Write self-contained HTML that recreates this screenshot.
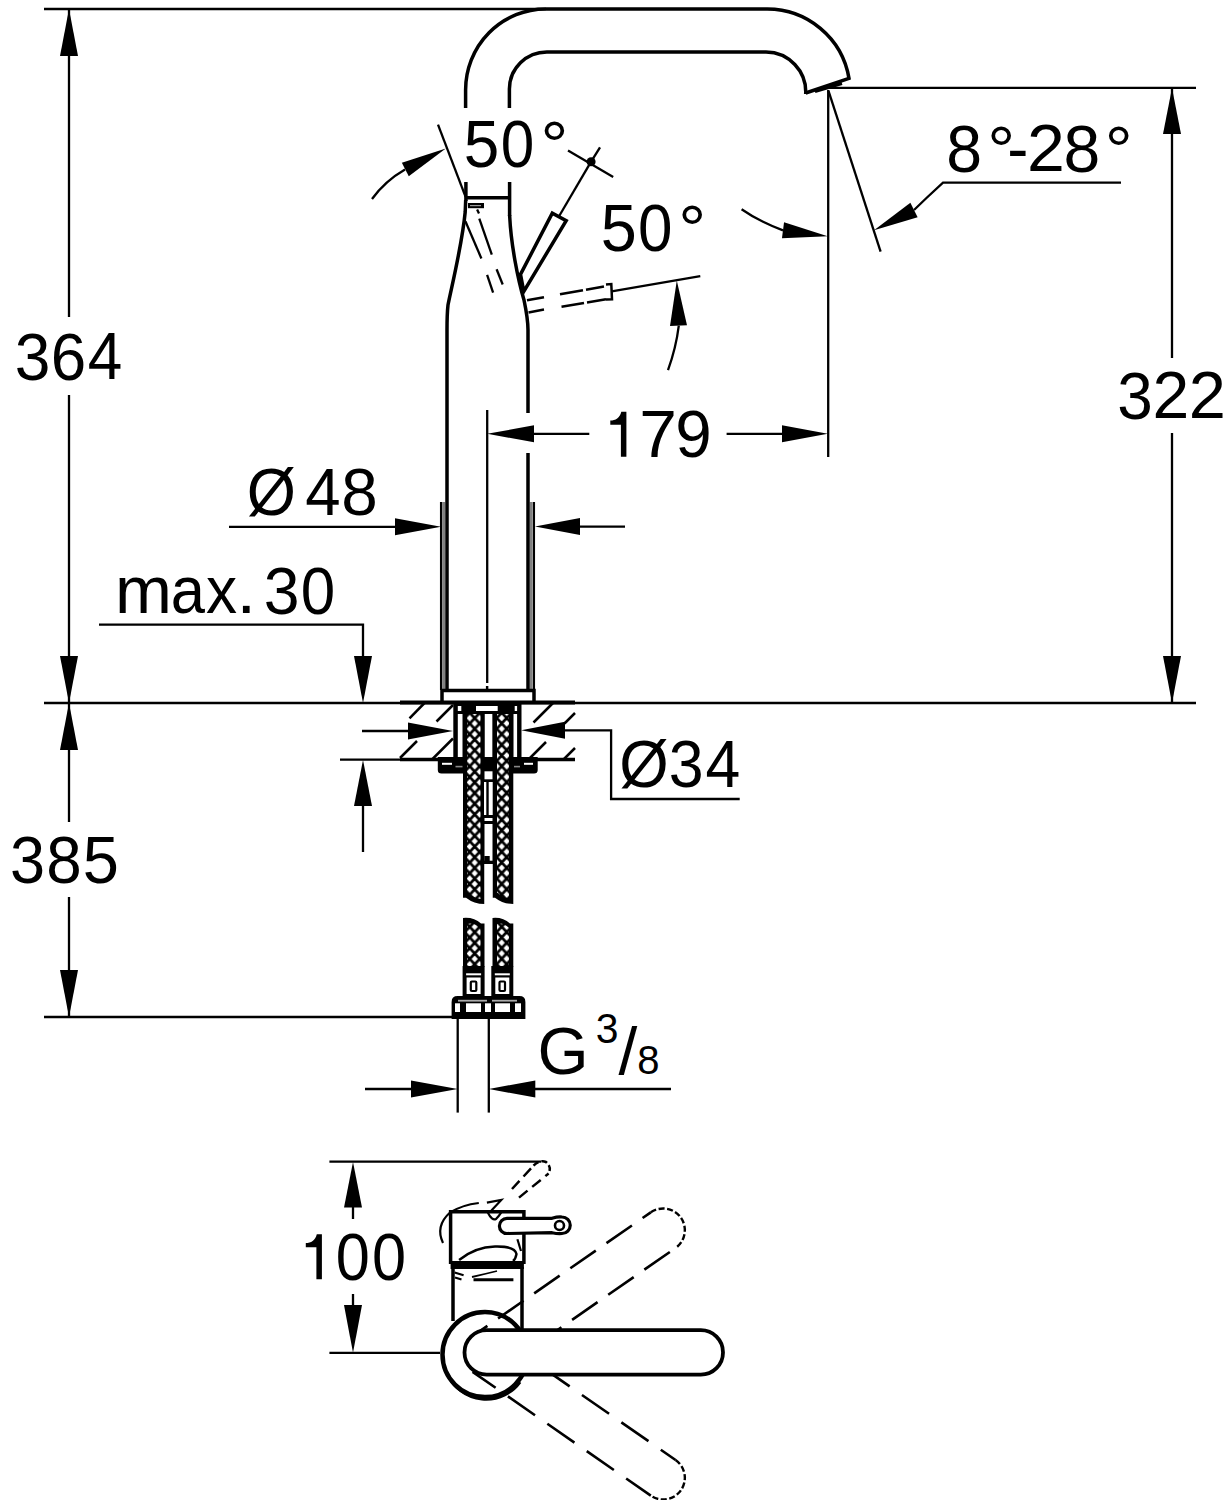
<!DOCTYPE html>
<html><head><meta charset="utf-8"><style>
html,body{margin:0;padding:0;background:#fff;}
svg{display:block;}
text{font-family:"Liberation Sans",sans-serif;fill:#000;}
text{stroke:none;}
.f{fill:#000;stroke:none;}
</style></head><body>
<svg width="1226" height="1500" viewBox="0 0 1226 1500"><g fill="none" stroke="#000">
<text transform="matrix(0.9715,0,0,1,14.86,379.5)" font-size="66">3</text>
<text transform="matrix(0.9654,0,0,1,50.76,379.5)" font-size="66">6</text>
<text transform="matrix(0.9411,0,0,1,87.87,379.3)" font-size="66">4</text>
<text transform="matrix(0.9555,0,0,1,9.9,883.2)" font-size="66">3</text>
<text transform="matrix(0.9655,0,0,1,46.23,883.2)" font-size="66">8</text>
<text transform="matrix(0.9843,0,0,1,82.7,883.2)" font-size="66">5</text>
<text transform="matrix(0.9683,0,0,1,1117.27,418.6)" font-size="66">3</text>
<text transform="matrix(1.0011,0,0,1,1152.58,418.4)" font-size="66">2</text>
<text transform="matrix(1.0111,0,0,1,1188.74,418.4)" font-size="66">2</text>
<path transform="translate(0,0)" d="M623.3,411.7 L626.4,411.7 L626.4,456.8 L620.9,456.8 L620.9,424.8 L610.3,424.8 L610.3,420.6 C615.5,420.3 619.8,418.2 621.3,411.7 Z" class="f"/>
<text transform="matrix(1.0266,0,0,1,639.13,456.9)" font-size="66">7</text>
<text transform="matrix(0.9939,0,0,1,675.23,457)" font-size="66">9</text>
<text transform="matrix(0.9683,0,0,1,463.74,166.7)" font-size="66">5</text>
<text transform="matrix(0.9128,0,0,1,500.65,166.7)" font-size="66">0</text>
<text transform="matrix(1.0542,0,0,1,540.46,168.3)" font-size="66">°</text>
<text transform="matrix(0.9811,0,0,1,600.71,250.5)" font-size="66">5</text>
<text transform="matrix(0.9382,0,0,1,637.98,250.5)" font-size="66">0</text>
<text transform="matrix(1.0596,0,0,1,678.13,251.5)" font-size="66">°</text>
<text transform="matrix(0.9751,0,0,1,946.2,171.5)" font-size="66">8</text>
<text transform="matrix(1.0596,0,0,1,987.23,173)" font-size="66">°</text>
<text transform="matrix(0.9619,0,0,1,1007.28,171)" font-size="66">-</text>
<text transform="matrix(1.0310,0,0,1,1027.08,170.8)" font-size="66">2</text>
<text transform="matrix(1.0010,0,0,1,1063.53,171.5)" font-size="66">8</text>
<text transform="matrix(1.0596,0,0,1,1104.63,173)" font-size="66">°</text>
<text transform="matrix(0.9589,0,0,1,246.71,515)" font-size="66">Ø</text>
<text transform="matrix(0.9622,0,0,1,305.34,514.6)" font-size="66">4</text>
<text transform="matrix(0.9945,0,0,1,341.15,515.2)" font-size="66">8</text>
<text transform="matrix(1.0358,0,0,1,115.06,612.8)" font-size="66">m</text>
<text transform="matrix(0.9321,0,0,1,170.69,612.8)" font-size="66">a</text>
<text transform="matrix(0.9414,0,0,1,206.1,612.8)" font-size="66">x</text>
<text transform="matrix(1.0662,0,0,1,236.57,612.9)" font-size="66">.</text>
<text transform="matrix(0.9747,0,0,1,263.85,613.6)" font-size="66">3</text>
<text transform="matrix(0.9382,0,0,1,300.68,613.6)" font-size="66">0</text>
<text transform="matrix(0.9632,0,0,1,619.2,786.7)" font-size="66">Ø</text>
<text transform="matrix(0.9491,0,0,1,668.71,786.9)" font-size="66">3</text>
<text transform="matrix(0.9471,0,0,1,705.57,786.5)" font-size="66">4</text>
<text transform="matrix(0.9808,0,0,1,537.5,1074)" font-size="67">G</text>
<text transform="matrix(0.9628,0,0,1,595.84,1042.8)" font-size="42.5">3</text>
<text transform="matrix(1.0253,0,0,1,618.5,1074.2)" font-size="66">/</text>
<text transform="matrix(0.9893,0,0,1,637.36,1073.6)" font-size="40.5">8</text>
<path transform="translate(-304.5,822.5)" d="M623.3,411.7 L626.4,411.7 L626.4,456.8 L620.9,456.8 L620.9,424.8 L610.3,424.8 L610.3,420.6 C615.5,420.3 619.8,418.2 621.3,411.7 Z" class="f"/>
<text transform="matrix(0.9287,0,0,1,335.71,1280.2)" font-size="66">0</text>
<text transform="matrix(0.9287,0,0,1,371.91,1280.2)" font-size="66">0</text>
<line x1="44" y1="9" x2="546" y2="9" stroke-width="2.3"/>
<line x1="69" y1="9" x2="69" y2="317" stroke-width="2.3"/>
<line x1="69" y1="395" x2="69" y2="703" stroke-width="2.3"/>
<polygon points="69,9 78,56 60,56" class="f"/>
<polygon points="69,703 60,656 78,656" class="f"/>
<line x1="44" y1="703" x2="1196" y2="703" stroke-width="2.3"/>
<line x1="400" y1="702.5" x2="575" y2="702.5" stroke-width="4"/>
<line x1="69" y1="703" x2="69" y2="822" stroke-width="2.3"/>
<line x1="69" y1="897" x2="69" y2="1017" stroke-width="2.3"/>
<polygon points="69,703 78,750 60,750" class="f"/>
<polygon points="69,1017 60,970 78,970" class="f"/>
<line x1="44" y1="1017" x2="453" y2="1017" stroke-width="2.3"/>
<line x1="1172" y1="88" x2="1172" y2="358" stroke-width="2.3"/>
<line x1="1172" y1="433" x2="1172" y2="703" stroke-width="2.3"/>
<polygon points="1172,88 1181,134 1163,134" class="f"/>
<polygon points="1172,703 1163,656 1181,656" class="f"/>
<line x1="829" y1="87.8" x2="1196" y2="87.8" stroke-width="2.3"/>
<line x1="828.2" y1="90" x2="828.2" y2="457" stroke-width="2.3"/>
<line x1="828.5" y1="90.8" x2="880.6" y2="251.6" stroke-width="2.3"/>
<polygon points="874,230.3 910.38,202.87 917.62,217.13" class="f"/>
<path d="M914,210 L927,197.5 L943,182.6 L1121,182.6" stroke-width="2.3"/>
<path d="M741.6,209.2 Q760,222 783,230.3" stroke-width="2.3"/>
<polygon points="827.7,236.2 781.95,238.23 784.05,222.37" class="f"/>
<line x1="487.2" y1="410" x2="487.2" y2="683" stroke-width="2.3"/>
<line x1="487.2" y1="686" x2="487.2" y2="690" stroke-width="2.3"/>
<polygon points="487.2,433.8 534,425.3 534,442.3" class="f"/>
<line x1="534" y1="433.8" x2="589.3" y2="433.8" stroke-width="2.3"/>
<line x1="726.6" y1="433.8" x2="782" y2="433.8" stroke-width="2.3"/>
<polygon points="827.8,433.8 782,442.3 782,425.3" class="f"/>
<line x1="229" y1="526.8" x2="400" y2="526.8" stroke-width="2.3"/>
<polygon points="441,526.8 395,535.3 395,518.3" class="f"/>
<line x1="441.1" y1="502" x2="441.1" y2="690" stroke-width="2.3"/>
<line x1="533.9" y1="502" x2="533.9" y2="690" stroke-width="2.3"/>
<rect x="442.2" y="502" width="3" height="188" fill="#808080" stroke="none"/>
<rect x="529.7" y="502" width="2.9" height="188" fill="#808080" stroke="none"/>
<polygon points="535,526.6 580,518.1 580,535.1" class="f"/>
<line x1="580" y1="526.6" x2="625" y2="526.6" stroke-width="2.3"/>
<path d="M99,624.6 L363,624.6 L363,660" stroke-width="2.3"/>
<polygon points="363,703 354,656 372,656" class="f"/>
<line x1="362" y1="731" x2="410" y2="731" stroke-width="2.3"/>
<polygon points="453,731 408,739.5 408,722.5" class="f"/>
<polygon points="521.2,730.3 565,721.8 565,738.8" class="f"/>
<path d="M563,730.3 L611.1,730.3 L611.1,799 L739.7,799" stroke-width="2.3"/>
<line x1="340" y1="759.6" x2="400" y2="759.6" stroke-width="2.3"/>
<line x1="400" y1="759.4" x2="575" y2="759.4" stroke-width="3.5"/>
<polygon points="363,760 372,806 354,806" class="f"/>
<line x1="363" y1="806" x2="363" y2="852" stroke-width="2.3"/>
<line x1="457.7" y1="1018" x2="457.7" y2="1112.6" stroke-width="2.3"/>
<line x1="488.8" y1="1018" x2="488.8" y2="1112.6" stroke-width="2.3"/>
<line x1="365" y1="1089" x2="413" y2="1089" stroke-width="2.3"/>
<polygon points="457.7,1089 411,1097.5 411,1080.5" class="f"/>
<polygon points="488.8,1089 535.3,1080.5 535.3,1097.5" class="f"/>
<line x1="533" y1="1089" x2="671" y2="1089" stroke-width="2.3"/>
<line x1="329.4" y1="1161.6" x2="541" y2="1161.6" stroke-width="2.3"/>
<line x1="329.4" y1="1352.8" x2="440" y2="1352.8" stroke-width="2.3"/>
<polygon points="353,1162 362,1207.5 344,1207.5" class="f"/>
<line x1="353" y1="1206" x2="353" y2="1219" stroke-width="2.3"/>
<line x1="353" y1="1294" x2="353" y2="1307" stroke-width="2.3"/>
<polygon points="353,1352.8 344,1305 362,1305" class="f"/>
<path d="M465.6,108 L465.6,90 A80,81 0 0 1 545.6,9 L766,9 A83,83 0 0 1 849,78.4 L805.7,93" stroke-width="3.5"/>
<path d="M509.4,108 L509.4,89 A37.5,37 0 0 1 547,52 L766,52 A40,40 0 0 1 805.7,94" stroke-width="3.5"/>
<line x1="815" y1="91.5" x2="842" y2="83.5" stroke-width="3"/>
<line x1="465.9" y1="182" x2="465.9" y2="201" stroke-width="3.5"/>
<line x1="509.6" y1="182" x2="509.6" y2="216" stroke-width="3.5"/>
<line x1="466" y1="197.7" x2="509.6" y2="197.7" stroke-width="3.5"/>
<path d="M465.7,200 L465.2,212 C462,245 452,285 448,305 C447,314 447,320 447,330 L447,690" stroke-width="3.5"/>
<path d="M509.6,215 C511,245 518,280 524,300 C526.5,312 528,320 528,330 L528,413 M528,453 L528,690" stroke-width="3.5"/>
<line x1="438" y1="124.7" x2="465.6" y2="196.9" stroke-width="2.3"/>
<path d="M372,199 Q385,181 405,169.5" stroke-width="2.3"/>
<polygon points="445.8,148.4 408.77,176.15 401.83,162.85" class="f"/>
<polygon points="520.5,274.4 552.3,213.2 566.2,220.6 523.8,291.5" stroke-width="3.5" stroke="#000" fill="#fff"/>
<line x1="558.9" y1="216.5" x2="591.1" y2="161.7" stroke-width="2.3"/>
<line x1="568" y1="150.6" x2="613.2" y2="177" stroke-width="2.3"/>
<line x1="600" y1="147.3" x2="591.1" y2="161.7" stroke-width="2.3"/>
<circle cx="591.1" cy="161.7" r="4.5" class="f"/>
<line x1="465.4" y1="221.2" x2="481.4" y2="258.5" stroke-width="2.3"/>
<line x1="487.1" y1="274.9" x2="493.1" y2="292.7" stroke-width="2.3"/>
<line x1="477.1" y1="209.5" x2="479" y2="213.5" stroke-width="2.3"/>
<line x1="479.3" y1="218.6" x2="491.8" y2="254.6" stroke-width="2.3"/>
<line x1="496.6" y1="269.3" x2="502.7" y2="284.5" stroke-width="2.3"/>
<rect x="468" y="203" width="16" height="5.2" class="f"/>
<rect x="470" y="205" width="11" height="1.2" fill="#999" stroke="none"/>
<line x1="527" y1="300.3" x2="544" y2="297.2" stroke-width="2.5"/>
<line x1="560" y1="294.3" x2="583" y2="290.2" stroke-width="2.5"/>
<line x1="586" y1="289.7" x2="604" y2="286.4" stroke-width="2.5"/>
<line x1="528.5" y1="312.4" x2="544" y2="309.6" stroke-width="2.5"/>
<line x1="561.5" y1="306.8" x2="584" y2="302.9" stroke-width="2.5"/>
<line x1="587" y1="302.4" x2="606" y2="299.2" stroke-width="2.5"/>
<path d="M606,284.5 L611.3,284 L612,299.2 L606,299.5" stroke-width="2.5"/>
<line x1="611.7" y1="291.3" x2="700.3" y2="276.1" stroke-width="2.3"/>
<path d="M668,370.1 Q676,348 678.8,325.6" stroke-width="2.3"/>
<polygon points="676.8,280.6 686.99,325.28 670.01,325.92" class="f"/>
<line x1="409.5" y1="718.3" x2="424.5" y2="703" stroke-width="2.5"/>
<line x1="400" y1="758" x2="417" y2="741" stroke-width="2.5"/>
<line x1="436.5" y1="721.5" x2="453" y2="705" stroke-width="2.5"/>
<line x1="431.5" y1="760" x2="453" y2="738.5" stroke-width="2.5"/>
<line x1="533.5" y1="722.5" x2="553" y2="703" stroke-width="2.5"/>
<line x1="528" y1="760" x2="546" y2="742" stroke-width="2.5"/>
<line x1="564.5" y1="723.5" x2="575" y2="713" stroke-width="2.5"/>
<line x1="563" y1="760" x2="575" y2="748" stroke-width="2.5"/>
<path d="M442,703 L442,690.5 L534,690.5 L534,703" stroke-width="3.5"/>
<line x1="486.9" y1="686" x2="486.9" y2="690" stroke-width="2"/>
<defs>
<pattern id="hp1" patternUnits="userSpaceOnUse" x="469.7" y="766.3" width="10" height="10.7">
<rect width="10" height="10.7" fill="#fff" stroke="none"/>
<path d="M0,0 L10,10.7 M10,0 L0,10.7 M-5,5.35 L0,10.7 M5,-5.35 L10,0" stroke="#000" stroke-width="2.8"/>
</pattern>
<pattern id="hp2" patternUnits="userSpaceOnUse" x="496.7" y="782.25" width="10" height="10.7">
<rect width="10" height="10.7" fill="#fff" stroke="none"/>
<path d="M0,0 L10,10.7 M10,0 L0,10.7" stroke="#000" stroke-width="2.8"/>
</pattern>
</defs>
<rect x="453.3" y="703" width="68.2" height="57" class="f"/>
<rect x="457.8" y="714" width="4.7" height="44" fill="#fff" stroke="none"/>
<rect x="513.3" y="714" width="3.8" height="44" fill="#fff" stroke="none"/>
<rect x="484.5" y="714" width="8.2" height="44" fill="#fff" stroke="none"/>
<rect x="457.8" y="706" width="3.5" height="5" fill="#fff" stroke="none"/>
<rect x="476" y="706" width="21.7" height="5" fill="#fff" stroke="none"/>
<rect x="514.7" y="706" width="2.4" height="5" fill="#fff" stroke="none"/>
<path d="M437.8,757 L537.7,757 L537.7,770 Q537.7,773.5 534,773.5 L441.5,773.5 Q437.8,773.5 437.8,770 Z" class="f"/>
<rect x="442" y="762.8" width="10" height="2" fill="#fff" stroke="none"/>
<rect x="524" y="762.8" width="9" height="2" fill="#fff" stroke="none"/>
<rect x="455.5" y="765.8" width="7" height="1.6" fill="#888" stroke="none"/>
<rect x="485" y="765.8" width="7" height="1.6" fill="#888" stroke="none"/>
<rect x="514" y="765.8" width="6" height="1.6" fill="#888" stroke="none"/>
<path d="M463,711 L484.5,711 L484.5,904 Q474,904 466,897.7 L463,897.7 Z" class="f"/>
<path d="M492.5,711 L513.3,711 L513.3,904 Q503,904 495,897.7 L492.5,897.7 Z" class="f"/>
<path d="M467,714 L480.5,714 L480.5,899 Q474,898 468,893 L467,893 Z" fill="url(#hp1)" stroke="none"/>
<path d="M497,714 L509,714 L509,899 Q503,898 498,893 L497,893 Z" fill="url(#hp2)" stroke="none"/>
<rect x="484" y="758" width="9" height="106" class="f"/>
<rect x="484.5" y="771.3" width="8" height="8" fill="#fff" stroke="none"/>
<rect x="484" y="782" width="2.3" height="33" fill="#fff" stroke="none"/>
<rect x="488.7" y="782" width="4" height="33" fill="#fff" stroke="none"/>
<rect x="484.5" y="818" width="8" height="3" fill="#fff" stroke="none"/>
<rect x="484.5" y="824" width="8" height="36.7" fill="#fff" stroke="none"/>
<rect x="484.5" y="864" width="8" height="40" fill="#fff" stroke="none"/>
<rect x="484.3" y="856" width="5.4" height="5" class="f"/>
<path d="M463,918 Q474,917 481,923.6 L484.5,923.6 L484.5,966.7 L463,966.7 Z" class="f"/>
<path d="M492.5,918 Q503,917 510,923.6 L513.3,923.6 L513.3,966.7 L492.5,966.7 Z" class="f"/>
<path d="M467,924 Q474,922 480.5,928 L480.5,966.7 L467,966.7 Z" fill="url(#hp1)" stroke="none"/>
<path d="M497,924 Q503,922 509,928 L509,966.7 L497,966.7 Z" fill="url(#hp2)" stroke="none"/>
<rect x="462.6" y="966" width="22" height="31" class="f"/>
<rect x="466.1" y="973.3" width="15" height="2" fill="#fff" stroke="none"/>
<rect x="466.6" y="977.5" width="14" height="16.5" fill="#fff" stroke="none"/>
<rect x="470.8" y="981.5" width="5.5" height="9.5" stroke-width="2.2" rx="1"/>
<rect x="491.3" y="966" width="22" height="31" class="f"/>
<rect x="494.8" y="973.3" width="15" height="2" fill="#fff" stroke="none"/>
<rect x="495.3" y="977.5" width="14" height="16.5" fill="#fff" stroke="none"/>
<rect x="499.5" y="981.5" width="5.5" height="9.5" stroke-width="2.2" rx="1"/>
<path d="M451.6,1018.9 L451.6,1002 Q451.6,996.1 457.6,996.1 L519.4,996.1 Q525.4,996.1 525.4,1002 L525.4,1018.9 Z" class="f"/>
<rect x="455" y="1003.3" width="5" height="8.7" fill="#fff" stroke="none"/>
<rect x="466" y="1003.3" width="15" height="8.7" fill="#fff" stroke="none"/>
<rect x="485" y="1003.3" width="6" height="8.7" fill="#fff" stroke="none"/>
<rect x="495" y="1003.3" width="15" height="8.7" fill="#fff" stroke="none"/>
<rect x="515" y="1003.3" width="6" height="8.7" fill="#fff" stroke="none"/>
<rect x="458" y="999.8" width="29" height="1.8" fill="#aaa" stroke="none"/>
<rect x="492" y="999.8" width="25" height="1.8" fill="#aaa" stroke="none"/>
<circle cx="485" cy="1354.6" r="42.5" stroke-width="4.5"/>
<path d="M448,1375 A42,42 0 0 0 520,1382" stroke-width="3"/>
<line x1="453" y1="1267" x2="453" y2="1321" stroke-width="3.5"/>
<line x1="522" y1="1267" x2="522" y2="1331" stroke-width="3.5"/>
<path d="M450.6,1264 L450.6,1211.7 L523.9,1211.7 L523.9,1264" stroke-width="3.5"/>
<rect x="450.6" y="1261" width="73.3" height="8" class="f"/>
<path d="M485,1332.3 L702,1332.3" transform="rotate(-34.8 485 1354)" stroke-width="2.6" stroke-dasharray="31,13" stroke-dashoffset="13"/>
<path d="M545,1375.7 L702,1375.7" transform="rotate(-34.8 485 1354)" stroke-width="2.6" stroke-dasharray="31,13" stroke-dashoffset="13"/>
<path d="M702,1332.3 A21.7,21.7 0 0 1 702,1375.7" transform="rotate(-34.8 485 1354)" stroke-width="2.4" stroke-dasharray="6,2.5"/>
<path d="M485,1375.7 L702,1375.7" transform="rotate(34.8 485 1354)" stroke-width="2.6" stroke-dasharray="33,15" stroke-dashoffset="5"/>
<path d="M545,1332.3 L702,1332.3" transform="rotate(34.8 485 1354)" stroke-width="2.6" stroke-dasharray="33,15" stroke-dashoffset="5"/>
<path d="M702,1332.3 A21.7,21.7 0 0 1 702,1375.7" transform="rotate(34.8 485 1354)" stroke-width="2.4" stroke-dasharray="6,2.5"/>
<rect x="464.5" y="1330.2" width="258.5" height="44.5" rx="22.2" ry="22.2" stroke-width="3.8" fill="#fff"/>
<path d="M507,1218.3 L552,1218.3 Q558,1216.5 562,1217 A8,8 0 0 1 562,1233.5 Q558,1234 552,1232.7 L507,1233.5 A7.6,7.6 0 0 1 507,1218.3 Z" stroke-width="3.2" fill="#fff"/>
<circle cx="559.5" cy="1225.5" r="4.5" stroke-width="2.6" fill="#fff"/>
<path d="M512,1189 L533.5,1165.7" stroke-width="2.5" stroke-dasharray="11,6"/>
<path d="M519,1197.6 L548.6,1173.5" stroke-width="2.5" stroke-dasharray="11,6"/>
<path d="M533.5,1165.7 Q540,1159.5 546,1162 Q552,1167 548.6,1173.5" stroke-width="2.5" stroke-dasharray="6,3"/>
<path d="M443,1243 Q435,1226 450,1212.5 Q462,1205 478.8,1203" stroke-width="2.2"/>
<path d="M459.1,1260 Q475,1247 495,1246.5 Q515,1246 516.5,1254 Q515.6,1259 513,1261" stroke-width="2.4"/>
<path d="M486.9,1202.6 L501.3,1199.9 L491.4,1210.6" stroke-width="2.2"/>
<path d="M487.8,1212.4 Q492,1221 496,1219 Q499,1216 501.3,1212.4" stroke-width="2.2"/>
<line x1="517.4" y1="1239.3" x2="521" y2="1251" stroke-width="2.2"/>
<line x1="473.5" y1="1279.7" x2="513.4" y2="1279.7" stroke-width="3"/>
<path d="M454.6,1272.5 L463.6,1275.2 M455,1277.5 L461.5,1279.5" stroke-width="2.2"/>
<path d="M472,1277 Q485,1274 497,1271" stroke-width="1.8"/>
</g></svg></body></html>
